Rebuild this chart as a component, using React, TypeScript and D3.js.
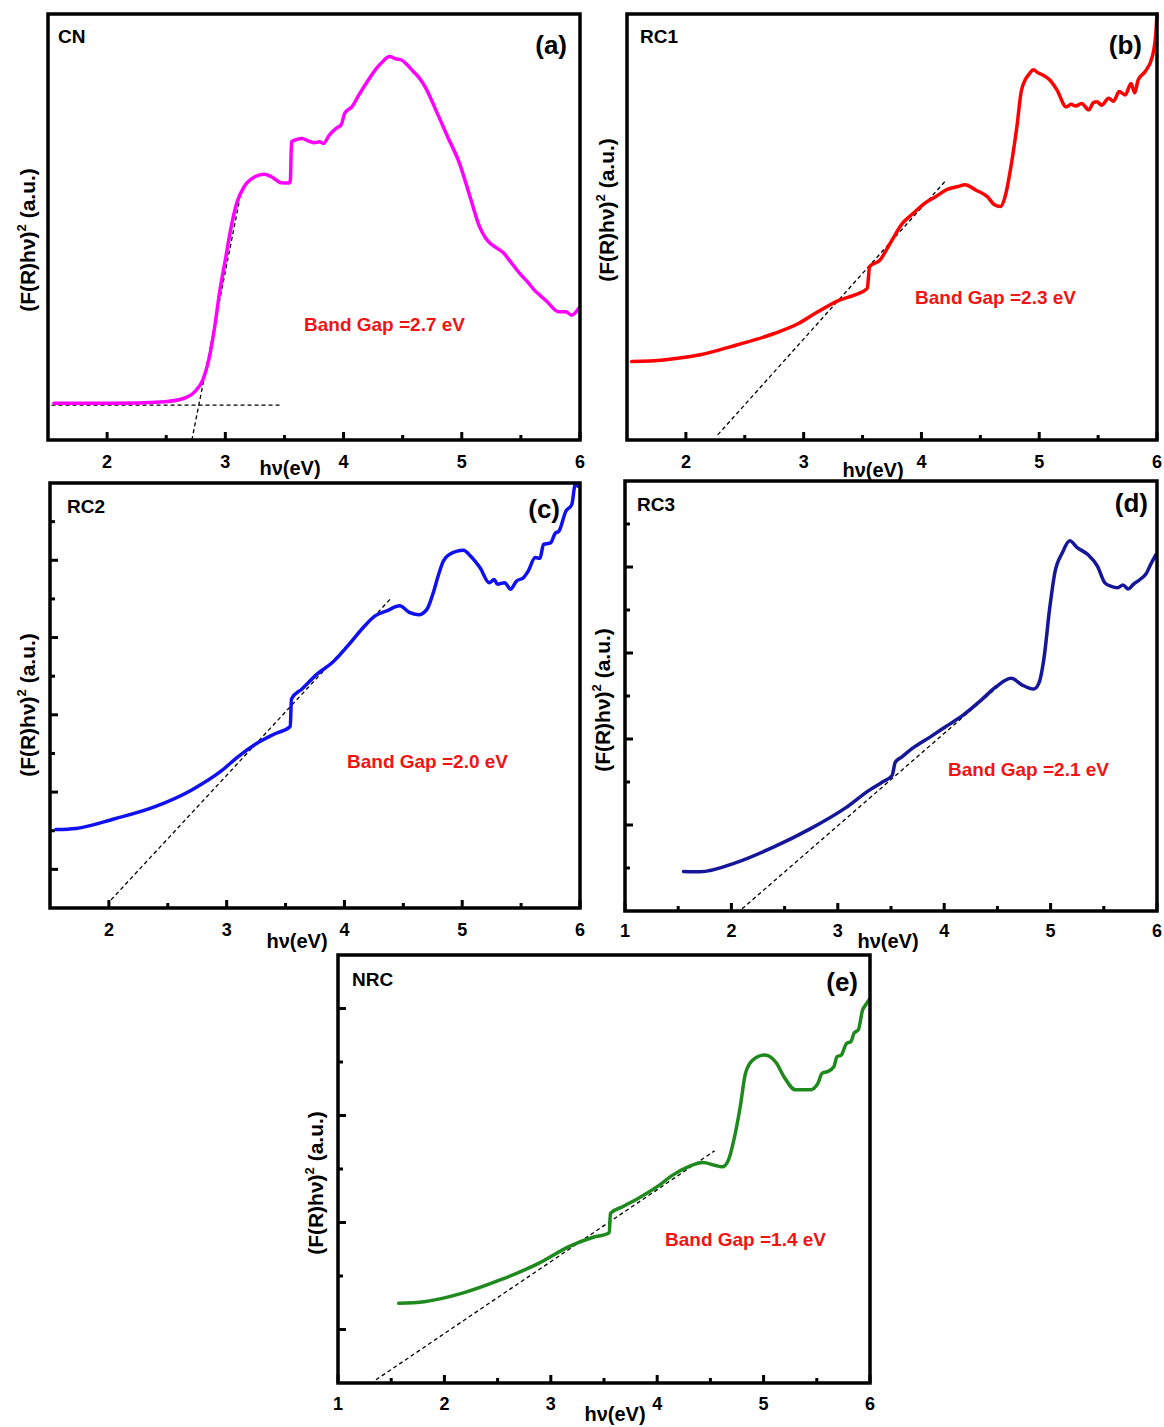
import * as d3 from "d3";
import { useEffect, useRef } from "react";

// (a) CN
const cnX = [1.55, 2.06, 2.49, 2.65, 2.74, 2.81, 2.86, 2.91, 2.95, 3.0, 3.05, 3.1, 3.16, 3.25, 3.33, 3.39, 3.47, 3.54, 3.55, 3.56, 3.6, 3.65, 3.7, 3.75, 3.8, 3.83, 3.88, 3.94, 3.98, 4.01, 4.07, 4.13, 4.2, 4.28, 4.33, 4.39, 4.44, 4.49, 4.54, 4.59, 4.64, 4.69, 4.78, 4.88, 4.98, 5.07, 5.15, 5.2, 5.24, 5.3, 5.35, 5.4, 5.49, 5.56, 5.62, 5.66, 5.72, 5.82, 5.88, 5.93, 5.99];
const cnY = [0.86, 0.86, 0.9, 0.98, 1.13, 1.41, 1.88, 2.66, 3.44, 4.23, 5.01, 5.59, 5.95, 6.18, 6.24, 6.18, 6.04, 6.03, 6.1, 7.0, 7.05, 7.08, 7.02, 6.98, 7.0, 6.96, 7.16, 7.32, 7.4, 7.67, 7.82, 8.1, 8.41, 8.73, 8.88, 9.0, 8.95, 8.92, 8.8, 8.65, 8.5, 8.29, 7.75, 7.12, 6.5, 5.71, 5.01, 4.75, 4.62, 4.5, 4.4, 4.23, 3.91, 3.7, 3.5, 3.4, 3.25, 3.01, 3.01, 2.93, 3.09];
const cnFitX = [[1.53, 3.48], [2.717, 3.115]];
const cnFitY = [[0.82, 0.82], [0, 5.56]];

// (b) RC1
const rc1X = [1.54, 1.81, 2.12, 2.43, 2.75, 2.96, 3.12, 3.31, 3.43, 3.54, 3.56, 3.65, 3.7, 3.75, 3.84, 3.93, 4.03, 4.12, 4.21, 4.31, 4.37, 4.46, 4.56, 4.62, 4.67, 4.71, 4.76, 4.81, 4.85, 4.92, 4.95, 4.99, 5.03, 5.09, 5.15, 5.23, 5.27, 5.31, 5.36, 5.42, 5.46, 5.49, 5.53, 5.59, 5.63, 5.68, 5.73, 5.78, 5.81, 5.84, 5.9, 5.96, 5.99, 6.0];
const rc1Y = [1.84, 1.88, 2.0, 2.23, 2.5, 2.74, 3.01, 3.29, 3.4, 3.56, 4.07, 4.23, 4.45, 4.69, 5.09, 5.32, 5.56, 5.71, 5.87, 5.95, 5.99, 5.87, 5.71, 5.52, 5.48, 5.71, 6.42, 7.35, 8.22, 8.61, 8.69, 8.62, 8.57, 8.45, 8.22, 7.82, 7.88, 7.84, 7.9, 7.75, 7.92, 7.94, 7.86, 8.02, 7.95, 8.18, 8.1, 8.37, 8.15, 8.45, 8.65, 9.0, 9.55, 10.0];
const rc1FitX = [[2.27, 4.21]];
const rc1FitY = [[0.12, 6.1]];

// (c) RC2
const rc2X = [1.55, 1.72, 2.05, 2.38, 2.7, 2.96, 3.09, 3.25, 3.41, 3.54, 3.55, 3.64, 3.77, 3.9, 4.03, 4.16, 4.26, 4.36, 4.47, 4.55, 4.63, 4.7, 4.75, 4.8, 4.84, 4.89, 5.01, 5.07, 5.15, 5.23, 5.27, 5.3, 5.36, 5.41, 5.46, 5.52, 5.56, 5.62, 5.66, 5.69, 5.75, 5.79, 5.82, 5.88, 5.93, 5.96, 5.98];
const rc2Y = [2.03, 2.06, 2.31, 2.61, 3.05, 3.56, 3.9, 4.25, 4.51, 4.7, 5.41, 5.67, 6.06, 6.36, 6.79, 7.26, 7.56, 7.69, 7.82, 7.65, 7.59, 7.73, 8.12, 8.64, 8.98, 9.15, 9.26, 9.11, 8.81, 8.42, 8.5, 8.38, 8.42, 8.25, 8.46, 8.55, 8.72, 9.07, 9.05, 9.41, 9.45, 9.7, 9.75, 10.27, 10.44, 10.96, 10.92];
const rc2FitX = [[2.018, 4.39]];
const rc2FitY = [[0.21, 8.0]];

// (d) RC3
const rc3X = [1.55, 1.7, 2.05, 2.39, 2.74, 3.08, 3.29, 3.42, 3.51, 3.54, 3.6, 3.7, 3.87, 4.01, 4.18, 4.35, 4.49, 4.63, 4.73, 4.84, 4.89, 4.94, 4.99, 5.04, 5.11, 5.18, 5.25, 5.35, 5.44, 5.51, 5.57, 5.63, 5.68, 5.73, 5.78, 5.84, 5.9, 5.94, 5.99];
const rc3Y = [0.92, 0.91, 1.13, 1.48, 1.91, 2.41, 2.8, 3.0, 3.15, 3.46, 3.58, 3.78, 4.05, 4.28, 4.56, 4.91, 5.22, 5.41, 5.26, 5.16, 5.3, 5.92, 7.01, 7.87, 8.33, 8.61, 8.45, 8.29, 8.02, 7.63, 7.55, 7.52, 7.58, 7.49, 7.6, 7.71, 7.85, 8.06, 8.29];
const rc3FitX = [[2.1, 4.6]];
const rc3FitY = [[0.05, 5.42]];

// (e) NRC
const nrcX = [1.57, 1.81, 2.17, 2.53, 2.89, 3.17, 3.39, 3.55, 3.56, 3.68, 3.82, 4.0, 4.15, 4.29, 4.43, 4.54, 4.61, 4.67, 4.72, 4.78, 4.83, 4.9, 5.01, 5.12, 5.19, 5.3, 5.44, 5.51, 5.55, 5.6, 5.66, 5.69, 5.73, 5.78, 5.82, 5.85, 5.89, 5.93, 5.96, 5.99];
const nrcY = [1.49, 1.52, 1.68, 1.93, 2.24, 2.55, 2.72, 2.81, 3.17, 3.3, 3.45, 3.67, 3.89, 4.04, 4.12, 4.07, 4.04, 4.17, 4.54, 5.16, 5.79, 6.04, 6.13, 5.98, 5.73, 5.48, 5.48, 5.6, 5.79, 5.82, 5.91, 6.1, 6.13, 6.35, 6.38, 6.54, 6.6, 6.97, 7.07, 7.16];
const nrcFitX = [[1.357, 4.54]];
const nrcFitY = [[0.06, 4.34]];

// ticks
const xLabelsFrom2 = [2, 3, 4, 5, 6];
const xLabelsFrom1 = [1, 2, 3, 4, 5, 6];
const xMinorFrom2 = [2.5, 3.5, 4.5, 5.5];
const xMinorFrom1 = [1.5, 2.5, 3.5, 4.5, 5.5];

const panels = [
  {
    name: "CN", letter: "(a)", gap: "Band Gap =2.7 eV", color: "#ff00ff",
    xs: cnX, ys: cnY, fitX: cnFitX, fitY: cnFitY,
    frame: [48, 14, 580, 440], xDomain: [1.5, 6], yDomain: [0, 10],
    xMajor: xLabelsFrom2, xMinor: xMinorFrom2, yMajor: [], yMinor: [],
    nameXY: [58, 43], letterXY: [567, 54], gapXY: [304, 331], yLabelXY: [28, 240], xLabelXY: [290, 475], tickY: 468,
  },
  {
    name: "RC1", letter: "(b)", gap: "Band Gap =2.3 eV", color: "#ff0000",
    xs: rc1X, ys: rc1Y, fitX: rc1FitX, fitY: rc1FitY,
    frame: [627, 14, 1157, 440], xDomain: [1.5, 6], yDomain: [0, 10],
    xMajor: xLabelsFrom2, xMinor: xMinorFrom2, yMajor: [], yMinor: [],
    nameXY: [640, 43], letterXY: [1142, 54], gapXY: [915, 304], yLabelXY: [607, 210], xLabelXY: [873, 477], tickY: 468,
  },
  {
    name: "RC2", letter: "(c)", gap: "Band Gap =2.0 eV", color: "#1010f0",
    xs: rc2X, ys: rc2Y, fitX: rc2FitX, fitY: rc2FitY,
    frame: [50, 483, 580, 908], xDomain: [1.5, 6], yDomain: [0, 11],
    xMajor: xLabelsFrom2, xMinor: xMinorFrom2, yMajor: [1, 3, 5, 7, 9], yMinor: [2, 4, 6, 8, 10],
    nameXY: [67, 513], letterXY: [560, 518], gapXY: [347, 768], yLabelXY: [28, 705], xLabelXY: [297, 948], tickY: 936,
  },
  {
    name: "RC3", letter: "(d)", gap: "Band Gap =2.1 eV", color: "#16169a",
    xs: rc3X, ys: rc3Y, fitX: rc3FitX, fitY: rc3FitY,
    frame: [625, 481, 1157, 911], xDomain: [1, 6], yDomain: [0, 10],
    xMajor: xLabelsFrom1, xMinor: xMinorFrom1, yMajor: [2, 4, 6, 8], yMinor: [1, 3, 5, 7, 9],
    nameXY: [637, 511], letterXY: [1148, 512], gapXY: [948, 776], yLabelXY: [603, 700], xLabelXY: [888, 948], tickY: 937,
  },
  {
    name: "NRC", letter: "(e)", gap: "Band Gap =1.4 eV", color: "#1e8a1e",
    xs: nrcX, ys: nrcY, fitX: nrcFitX, fitY: nrcFitY,
    frame: [338, 955, 870, 1383], xDomain: [1, 6], yDomain: [0, 8],
    xMajor: xLabelsFrom1, xMinor: xMinorFrom1, yMajor: [1, 3, 5, 7], yMinor: [2, 4, 6],
    nameXY: [352, 986], letterXY: [858, 991], gapXY: [665, 1246], yLabelXY: [316, 1183], xLabelXY: [615, 1421], tickY: 1410,
  },
];

const FONT = "'Liberation Sans', Arial, sans-serif";

export default function App() {
  const svgRef = useRef<SVGSVGElement>(null);

  useEffect(() => {
    const svg = d3.select(svgRef.current);
    svg.selectAll("*").remove();

    panels.forEach((p) => {
      const [l, t, r, b] = p.frame;
      const x = d3.scaleLinear().domain(p.xDomain).range([l, r]);
      const y = d3.scaleLinear().domain(p.yDomain).range([b, t]);
      const g = svg.append("g");

      // ticks point inward
      p.xMajor.forEach((v) => {
        g.append("line").attr("x1", x(v)).attr("x2", x(v)).attr("y1", b).attr("y2", b - 8)
          .attr("stroke", "#000").attr("stroke-width", 3);
        g.append("text").attr("x", x(v)).attr("y", p.tickY).attr("text-anchor", "middle")
          .attr("font-family", FONT).attr("font-weight", "bold").attr("font-size", 18).text(v);
      });
      p.xMinor.forEach((v) => {
        g.append("line").attr("x1", x(v)).attr("x2", x(v)).attr("y1", b).attr("y2", b - 5)
          .attr("stroke", "#000").attr("stroke-width", 3);
      });
      p.yMajor.forEach((v) => {
        g.append("line").attr("x1", l).attr("x2", l + 8).attr("y1", y(v)).attr("y2", y(v))
          .attr("stroke", "#000").attr("stroke-width", 3);
      });
      p.yMinor.forEach((v) => {
        g.append("line").attr("x1", l).attr("x2", l + 5).attr("y1", y(v)).attr("y2", y(v))
          .attr("stroke", "#000").attr("stroke-width", 3);
      });

      // tangent fits
      p.fitX.forEach((fx, i) => {
        const pts: [number, number][] = fx.map((v, j) => [x(v), y(p.fitY[i][j])]);
        g.append("path").attr("d", d3.line()(pts)).attr("fill", "none")
          .attr("stroke", "#000").attr("stroke-width", 1.3).attr("stroke-dasharray", "4,3");
      });

      const line = d3.line<number>()
        .x((d) => x(d))
        .y((_, i) => y(p.ys[i]))
        .curve(d3.curveMonotoneX);
      g.append("path").attr("d", line(p.xs)).attr("fill", "none")
        .attr("stroke", p.color).attr("stroke-width", 3.5)
        .attr("stroke-linejoin", "round").attr("stroke-linecap", "round");

      g.append("rect").attr("x", l).attr("y", t).attr("width", r - l).attr("height", b - t)
        .attr("fill", "none").attr("stroke", "#000").attr("stroke-width", 3.5);

      g.append("text").attr("x", p.nameXY[0]).attr("y", p.nameXY[1])
        .attr("font-family", FONT).attr("font-weight", "bold").attr("font-size", 19).text(p.name);
      g.append("text").attr("x", p.letterXY[0]).attr("y", p.letterXY[1]).attr("text-anchor", "end")
        .attr("font-family", FONT).attr("font-weight", "bold").attr("font-size", 26).text(p.letter);
      g.append("text").attr("x", p.gapXY[0]).attr("y", p.gapXY[1]).attr("fill", "#f01414")
        .attr("font-family", FONT).attr("font-weight", "bold").attr("font-size", 19).text(p.gap);

      g.append("text").attr("x", p.xLabelXY[0]).attr("y", p.xLabelXY[1]).attr("text-anchor", "middle")
        .attr("font-family", FONT).attr("font-weight", "bold").attr("font-size", 20).text("hν(eV)");

      const yl = g.append("text")
        .attr("transform", `translate(${p.yLabelXY[0] + 7},${p.yLabelXY[1]}) rotate(-90)`)
        .attr("text-anchor", "middle")
        .attr("font-family", FONT).attr("font-weight", "bold").attr("font-size", 21);
      yl.append("tspan").text("(F(R)hν)");
      yl.append("tspan").attr("dy", -9).attr("font-size", 13).text("2");
      yl.append("tspan").attr("dy", 9).text(" (a.u.)");
    });
  }, []);

  return (
    <svg
      ref={svgRef}
      width={1164}
      height={1427}
      style={{ position: "absolute", left: 0, top: 0, background: "#fff" }}
    />
  );
}
